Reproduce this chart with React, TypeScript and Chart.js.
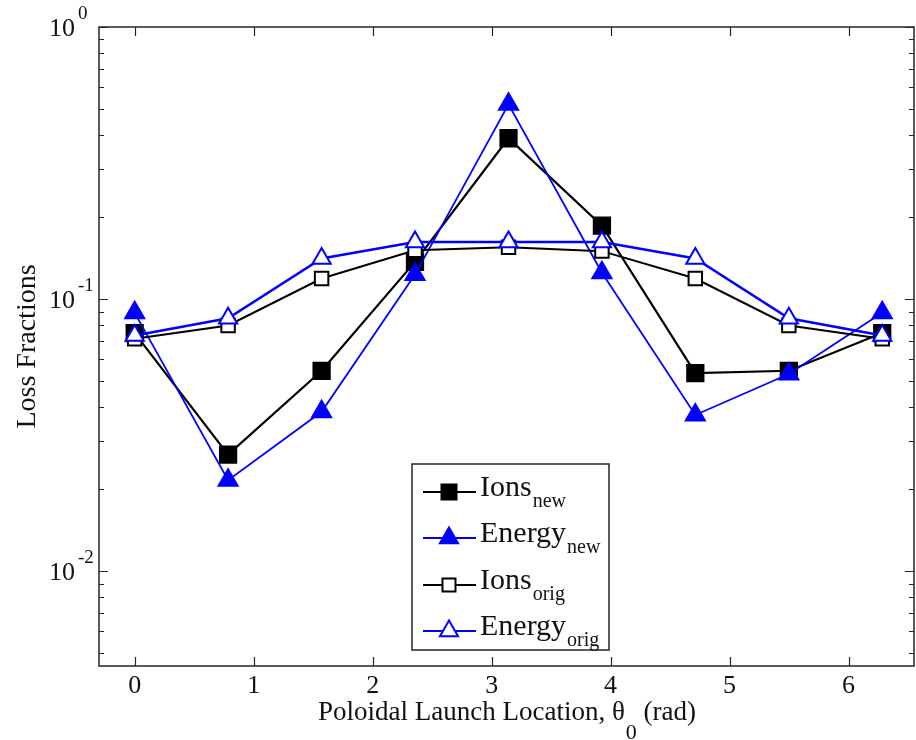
import React, { useEffect, useRef } from 'react';
import { Chart, registerables } from 'chart.js';

Chart.register(...registerables);

// Poloidal launch angle θ0 (rad): 0, π/4, ..., 2π
const theta = [0, 0.785, 1.571, 2.356, 3.142, 3.927, 4.712, 5.498, 6.283];

// Loss fractions per launch location
const ionsNew = [0.075, 0.0268, 0.0545, 0.137, 0.39, 0.186, 0.0534, 0.0545, 0.075];
const energyNew = [0.089, 0.0216, 0.0385, 0.123, 0.52, 0.125, 0.0375, 0.053, 0.089];
const ionsOrig = [0.0715, 0.08, 0.119, 0.151, 0.155, 0.15, 0.119, 0.08, 0.0715];
const energyOrig = [0.0735, 0.085, 0.141, 0.162, 0.162, 0.162, 0.141, 0.085, 0.0735];

// Axis ticks
const xTickValues = [0, 1, 2, 3, 4, 5, 6];
const yDecadeExponents = [0, -1, -2];
const xRange = [-0.3, 6.55];
const yRange = [0.00448, 1];

// Legend entries: base text + subscript
const legendBase = ['Ions', 'Energy', 'Ions', 'Energy'];
const legendSub = ['new', 'new', 'orig', 'orig'];

const FONT = '"Liberation Serif", "Times New Roman", serif';
const AXIS = '#262626';
const BLUE = '#0000ff';

type Marker = { shape: 'rect' | 'triangle'; color: string; filled: boolean };
const legendMarkers: Marker[] = [
  { shape: 'rect', color: '#000000', filled: true },
  { shape: 'triangle', color: BLUE, filled: true },
  { shape: 'rect', color: '#000000', filled: false },
  { shape: 'triangle', color: BLUE, filled: false },
];

function drawMarker(ctx: CanvasRenderingContext2D, m: Marker, x: number, y: number) {
  ctx.save();
  ctx.beginPath();
  if (m.shape === 'rect') {
    const s = m.filled ? 15 : 13;
    ctx.rect(x - s / 2, y - s / 2, s, s);
  } else {
    const r = 10.5;
    ctx.moveTo(x, y - r);
    ctx.lineTo(x + r * 0.866, y + r * 0.5);
    ctx.lineTo(x - r * 0.866, y + r * 0.5);
    ctx.closePath();
  }
  ctx.fillStyle = m.filled ? m.color : '#ffffff';
  ctx.fill();
  ctx.lineWidth = 2;
  ctx.strokeStyle = m.color;
  ctx.stroke();
  ctx.restore();
}

const framePlugin = {
  id: 'frame',
  afterDatasetsDraw(chart: any) {
    const { ctx, chartArea: a, scales } = chart;
    const xs = scales.x;
    const ys = scales.y;
    ctx.save();

    // box
    ctx.strokeStyle = AXIS;
    ctx.lineWidth = 1.5;
    ctx.strokeRect(a.left, a.top, a.right - a.left, a.bottom - a.top);

    // inward ticks
    ctx.beginPath();
    ctx.lineWidth = 1.2;
    for (const t of xTickValues) {
      const px = Math.round(xs.getPixelForValue(t)) + 0.5;
      ctx.moveTo(px, a.bottom);
      ctx.lineTo(px, a.bottom - 9);
      ctx.moveTo(px, a.top);
      ctx.lineTo(px, a.top + 9);
    }
    for (let e = -3; e <= 0; e++) {
      for (let m = 1; m <= 9; m++) {
        const v = m * Math.pow(10, e);
        if (v < ys.min * 0.999 || v > ys.max * 1.001) continue;
        const py = Math.round(ys.getPixelForValue(v)) + 0.5;
        const len = m === 1 ? 9 : 5;
        ctx.moveTo(a.left, py);
        ctx.lineTo(a.left + len, py);
        ctx.moveTo(a.right, py);
        ctx.lineTo(a.right - len, py);
      }
    }
    ctx.stroke();

    // x tick labels
    ctx.fillStyle = '#111111';
    ctx.font = `26px ${FONT}`;
    ctx.textAlign = 'center';
    ctx.textBaseline = 'alphabetic';
    for (const t of xTickValues) {
      ctx.fillText(String(t), xs.getPixelForValue(t), a.bottom + 27);
    }

    // y tick labels 10^n
    for (const e of yDecadeExponents) {
      const py = ys.getPixelForValue(Math.pow(10, e));
      ctx.font = `26px ${FONT}`;
      ctx.textAlign = 'right';
      ctx.fillText('10', a.left - 24, py + 9);
      ctx.font = `19px ${FONT}`;
      ctx.textAlign = 'left';
      ctx.fillText(String(e), a.left - 21, py - 8);
    }

    // x title with subscript
    const main = 'Poloidal Launch Location, θ';
    const sub = '0';
    const tail = ' (rad)';
    ctx.font = `27px ${FONT}`;
    const w1 = ctx.measureText(main).width;
    const w3 = ctx.measureText(tail).width;
    ctx.font = `22px ${FONT}`;
    const w2 = ctx.measureText(sub).width;
    const cx = (a.left + a.right) / 2;
    let tx = cx - (w1 + w2 + w3) / 2;
    const base = a.bottom + 54;
    ctx.textAlign = 'left';
    ctx.font = `27px ${FONT}`;
    ctx.fillText(main, tx, base);
    tx += w1 + 1;
    ctx.font = `22px ${FONT}`;
    ctx.fillText(sub, tx, base + 19);
    tx += w2;
    ctx.font = `27px ${FONT}`;
    ctx.fillText(tail, tx, base);

    // y title
    ctx.save();
    ctx.translate(35, (a.top + a.bottom) / 2);
    ctx.rotate(-Math.PI / 2);
    ctx.textAlign = 'center';
    ctx.font = `28px ${FONT}`;
    ctx.fillText('Loss Fractions', 0, 0);
    ctx.restore();

    // legend
    const lx = a.left + 313;
    const ly = a.top + 437;
    const lw = 197;
    const lh = 186;
    ctx.fillStyle = '#ffffff';
    ctx.fillRect(lx, ly, lw, lh);
    ctx.strokeStyle = AXIS;
    ctx.lineWidth = 1.5;
    ctx.strokeRect(lx, ly, lw, lh);
    const rowY = [28, 74, 121, 167];
    for (let i = 0; i < legendBase.length; i++) {
      const y = ly + rowY[i];
      const mk = legendMarkers[i];
      ctx.beginPath();
      ctx.strokeStyle = mk.color;
      ctx.lineWidth = 2;
      ctx.moveTo(lx + 11, y);
      ctx.lineTo(lx + 64, y);
      ctx.stroke();
      drawMarker(ctx, mk, lx + 37, y);
      ctx.fillStyle = '#111111';
      ctx.textAlign = 'left';
      ctx.font = `30px ${FONT}`;
      ctx.fillText(legendBase[i], lx + 68, y + 4);
      const bw = ctx.measureText(legendBase[i]).width;
      ctx.font = `20px ${FONT}`;
      ctx.fillText(legendSub[i], lx + 68 + bw + 1, y + 15);
    }

    ctx.restore();
  },
};

function series(label: string, values: number[], color: string, shape: string, filled: boolean, radius: number, width: number, order: number) {
  return {
    label,
    data: theta.map((t, i) => ({ x: t, y: values[i] })),
    borderColor: color,
    borderWidth: width,
    backgroundColor: filled ? color : '#ffffff',
    pointStyle: shape,
    pointRadius: radius,
    pointBorderWidth: 2,
    pointBorderColor: color,
    pointBackgroundColor: filled ? color : '#ffffff',
    tension: 0,
    fill: false,
    order,
  };
}

export default function App() {
  const ref = useRef<HTMLCanvasElement>(null);

  useEffect(() => {
    document.body.style.margin = '0';
    const canvas = ref.current;
    if (!canvas) return;
    const chart = new Chart(canvas, {
      type: 'line',
      data: {
        datasets: [
          series('Ions new', ionsNew, '#000000', 'rect', true, 11.5, 2.2, 3),
          series('Energy new', energyNew, BLUE, 'triangle', true, 11, 1.8, 2),
          series('Ions orig', ionsOrig, '#000000', 'rect', false, 9.5, 2, 1),
          series('Energy orig', energyOrig, BLUE, 'triangle', false, 10.5, 2.5, 0),
        ] as any,
      },
      options: {
        animation: false,
        responsive: false,
        devicePixelRatio: 1,
        layout: { autoPadding: false, padding: { left: 99, top: 27, right: 2, bottom: 74 } },
        scales: {
          x: { type: 'linear', min: xRange[0], max: xRange[1], display: false },
          y: { type: 'logarithmic', min: yRange[0], max: yRange[1], display: false },
        },
        plugins: {
          legend: { display: false },
          tooltip: { enabled: false },
        },
        elements: { line: { borderJoinStyle: 'miter' } },
      } as any,
      plugins: [framePlugin],
    });
    return () => chart.destroy();
  }, []);

  return <canvas ref={ref} width={916} height={740} style={{ display: 'block', width: 916, height: 740 }} />;
}
